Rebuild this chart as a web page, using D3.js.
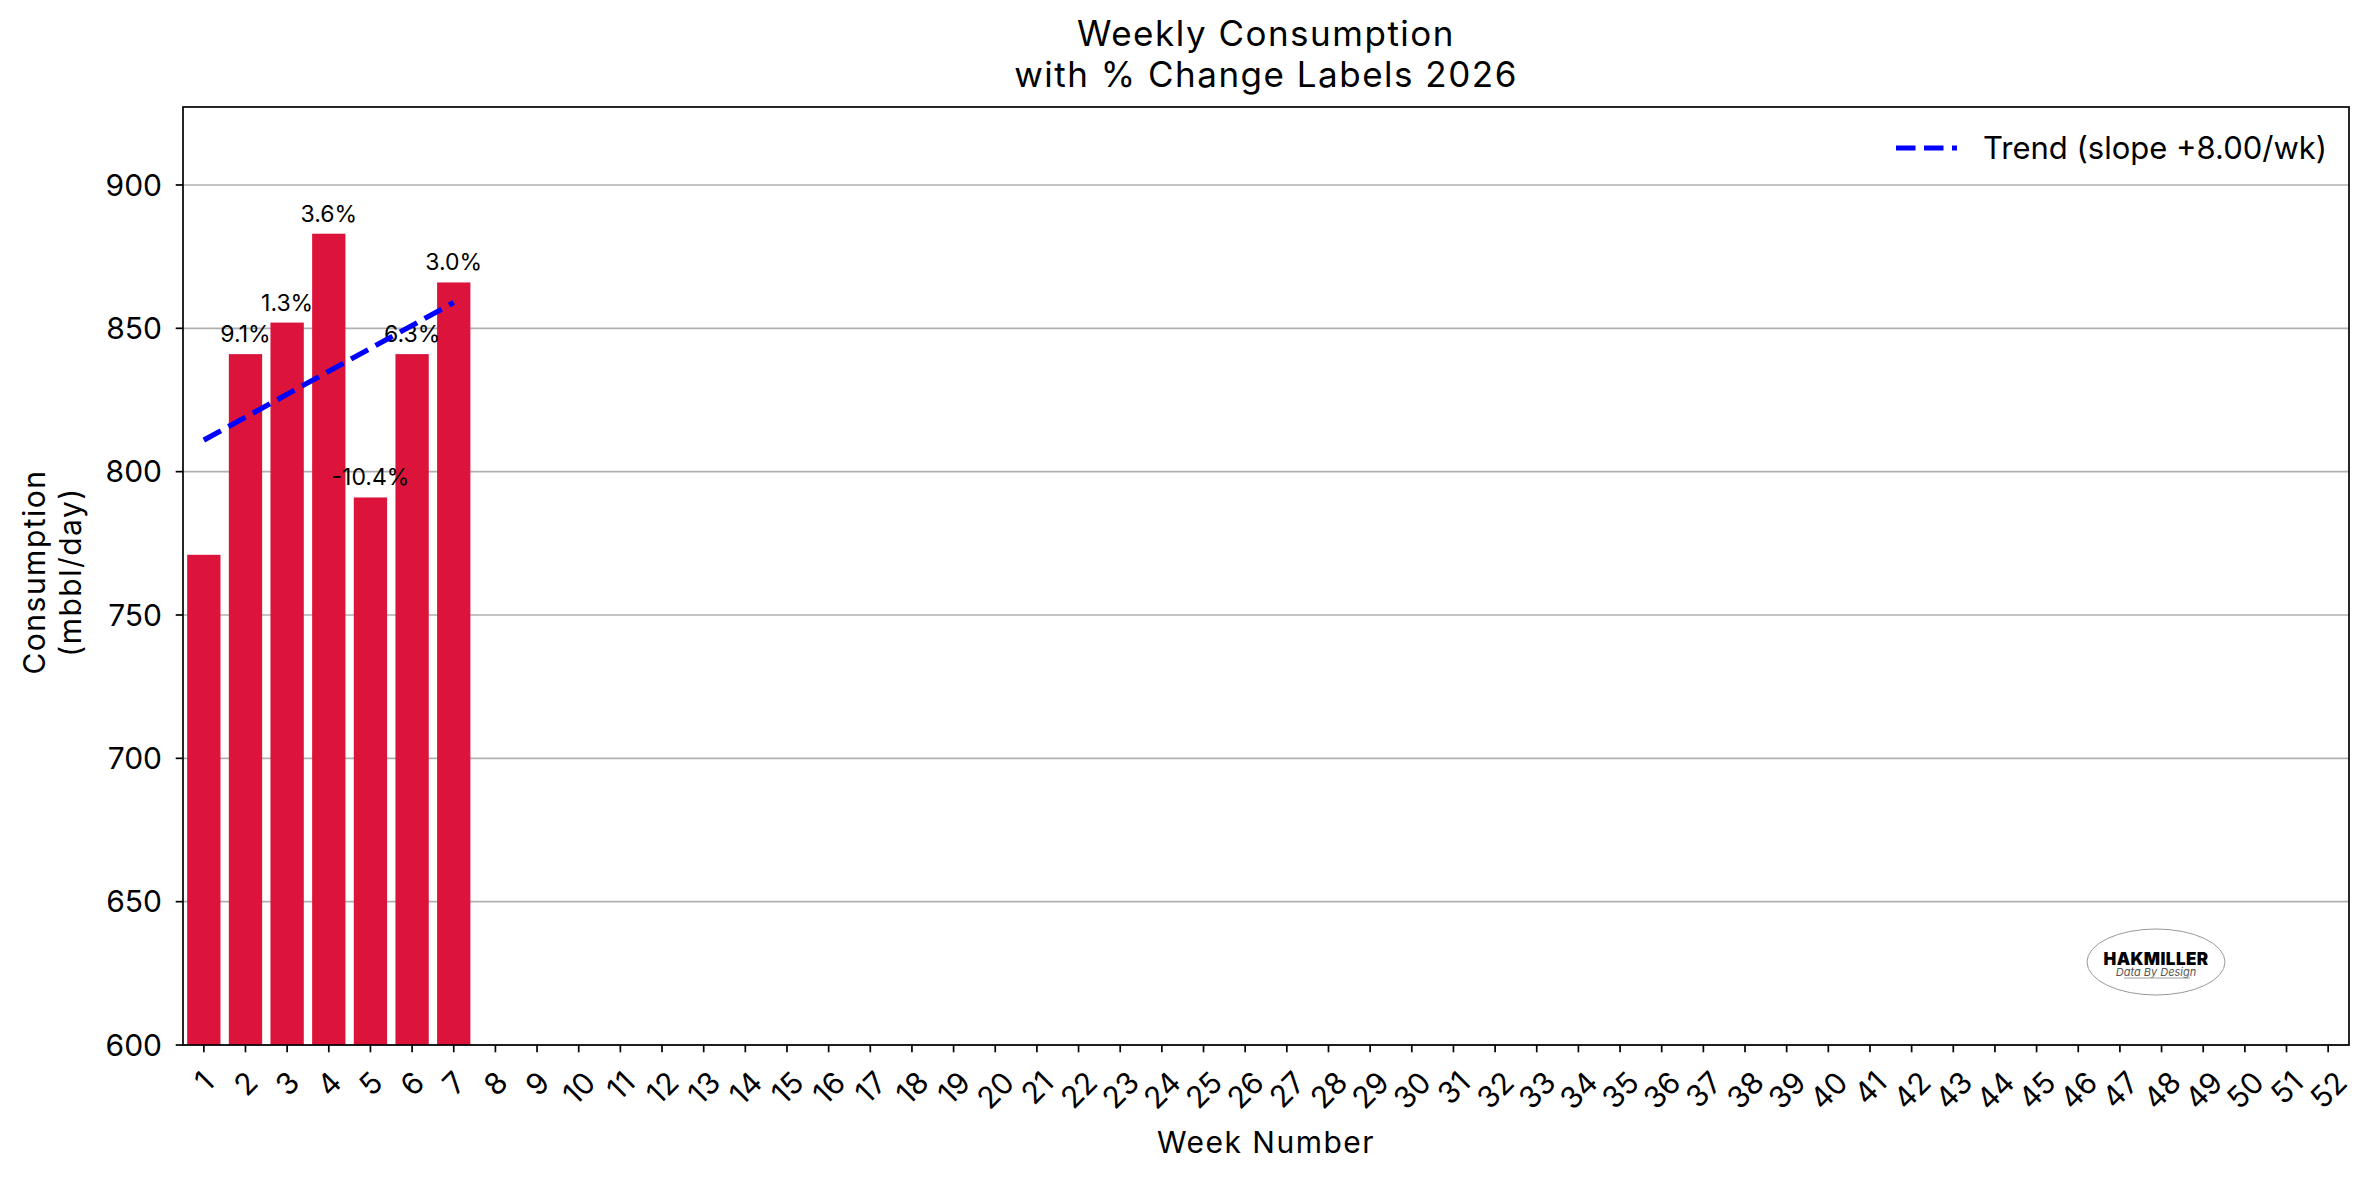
<!DOCTYPE html>
<html><head><meta charset="utf-8">
<script src="https://cdn.jsdelivr.net/npm/d3@7"></script>
<style>body{margin:0;background:#fff}svg{display:block}text{font-family:Inter,"Noto Sans",sans-serif;fill:#000}</style>
</head><body><svg id="c" width="2375" height="1180"></svg>
<script>
const weeks = d3.range(1, 53);
const consumption = [771, 841, 852, 883, 791, 841, 866];
const pctChange = [null, 9.1, 1.3, 3.6, -10.4, 6.3, 3.0];
const yTicks = [600, 650, 700, 750, 800, 850, 900];
const yDomain = [600, 927.2];
const titleLines = ["Weekly Consumption", "with % Change Labels 2026"];
const yLabelLines = ["Consumption", "(mbbl/day)"];
const xLabel = "Week Number";

const m = {l:183, r:2349, t:107, b:1045};
const svg = d3.select("#c");
const x = d3.scaleBand().domain(weeks).range([m.l, m.r]).paddingInner(0.2).paddingOuter(0.1);
const y = d3.scaleLinear().domain(yDomain).range([m.b, m.t]);
const cx = w => x(w) + x.bandwidth()/2;

// grid
svg.append("g").selectAll("line").data(yTicks).join("line")
  .attr("x1", m.l).attr("x2", m.r).attr("y1", d=>y(d)).attr("y2", d=>y(d))
  .attr("stroke", "#b0b0b0").attr("stroke-width", 1.7);

// bars
svg.append("g").selectAll("rect").data(consumption).join("rect")
  .attr("x", (d,i)=>x(weeks[i])).attr("width", x.bandwidth())
  .attr("y", d=>y(d)).attr("height", d=>y(yDomain[0]) - y(d))
  .attr("fill", "#dc143c");

// pct labels
svg.append("g").selectAll("text").data(pctChange.map((p,i)=>({p,i})).filter(d=>d.p!==null)).join("text")
  .attr("x", d=>cx(weeks[d.i])).attr("y", d=>y(consumption[d.i]) - 12)
  .attr("text-anchor", "middle").attr("font-size", 23)
  .text(d=>d.p.toFixed(1) + "%");

// trend (least squares fit of the weekly values)
const xs = consumption.map((d,i)=>weeks[i]);
const mx = d3.mean(xs), my = d3.mean(consumption);
const slope = d3.sum(xs.map((xv,i)=>(xv-mx)*(consumption[i]-my))) / d3.sum(xs.map(xv=>(xv-mx)**2));
const icpt = my - slope*mx;
const trend = xs.map(xv=>({w:xv, v:icpt + slope*xv}));
svg.append("path").datum(trend)
  .attr("d", d3.line().x(d=>cx(d.w)).y(d=>y(d.v)))
  .attr("fill","none").attr("stroke","#0000ff").attr("stroke-width",5.2)
  .attr("stroke-dasharray","19.5,8.5");

// axes spines
svg.append("rect").attr("x", m.l).attr("y", m.t).attr("width", m.r-m.l).attr("height", m.b-m.t)
  .attr("fill","none").attr("stroke","#000").attr("stroke-width",1.7);

// y ticks
const yg = svg.append("g");
yg.selectAll("line").data(yTicks).join("line")
  .attr("x1", m.l-7.3).attr("x2", m.l).attr("y1", d=>y(d)).attr("y2", d=>y(d))
  .attr("stroke","#000").attr("stroke-width",1.7);
yg.selectAll("text").data(yTicks).join("text")
  .attr("x", m.l-21).attr("y", d=>y(d)).attr("dy","0.36em")
  .attr("text-anchor","end").attr("font-size",30).text(d=>d);

// x ticks
const xg = svg.append("g");
xg.selectAll("line").data(weeks).join("line")
  .attr("x1", d=>cx(d)).attr("x2", d=>cx(d)).attr("y1", m.b).attr("y2", m.b+7.3)
  .attr("stroke","#000").attr("stroke-width",1.7);
const fs = 30;
xg.selectAll("text").data(weeks).join("text")
  .attr("font-size", fs).attr("text-anchor","middle").attr("dominant-baseline","central")
  .text(d=>d)
  .each(function(d){
    const w = this.getComputedTextLength();
    const h = fs*0.727;
    const half = (w + h)/(2*Math.SQRT2);
    d3.select(this).attr("transform", `translate(${cx(d)},${1069 + half}) rotate(-45)`);
  });

// axis labels
svg.append("text").attr("x",(m.l+m.r)/2).attr("y",1153).attr("text-anchor","middle")
  .attr("font-size",30).attr("letter-spacing",1.5).text(xLabel);
const yl = svg.append("text").attr("transform",`translate(0,${(m.t+m.b)/2 - 4}) rotate(-90)`)
  .attr("text-anchor","middle").attr("font-size",30).attr("letter-spacing",1.5);
yLabelLines.forEach((t,i)=>yl.append("tspan").attr("x",0).attr("y", 45 + i*36).text(t));

// title
titleLines.forEach((t,i)=>svg.append("text").attr("x",(m.l+m.r)/2).attr("y",46+i*41)
  .attr("text-anchor","middle").attr("font-size",35).attr("letter-spacing",1.5).text(t));

// legend
svg.append("line").attr("x1",1896).attr("x2",1957).attr("y1",148).attr("y2",148)
  .attr("stroke","#0000ff").attr("stroke-width",5.2).attr("stroke-dasharray","19.5,8.5");
svg.append("text").attr("x",1983).attr("y",159).attr("font-size",31)
  .text(`Trend (slope ${slope>=0?"+":""}${slope.toFixed(2)}/wk)`);

// logo
const lg = svg.append("g");
lg.append("ellipse").attr("cx",2156).attr("cy",962).attr("rx",69).attr("ry",33)
  .attr("fill","#fff").attr("stroke","#999").attr("stroke-width",1);
lg.append("text").attr("x",2156).attr("y",965).attr("text-anchor","middle")
  .attr("font-size",17).attr("font-weight",900).attr("letter-spacing",0.4).text("HAKMILLER");
lg.append("text").attr("x",2156).attr("y",976).attr("text-anchor","middle")
  .attr("font-size",11).attr("font-style","italic").attr("font-family","Liberation Serif,serif")
  .style("fill","#555").text("Data By Design");
lg.append("line").attr("x1",2124).attr("x2",2190).attr("y1",978).attr("y2",978)
  .attr("stroke","#888").attr("stroke-width",0.8);
</script></body></html>
